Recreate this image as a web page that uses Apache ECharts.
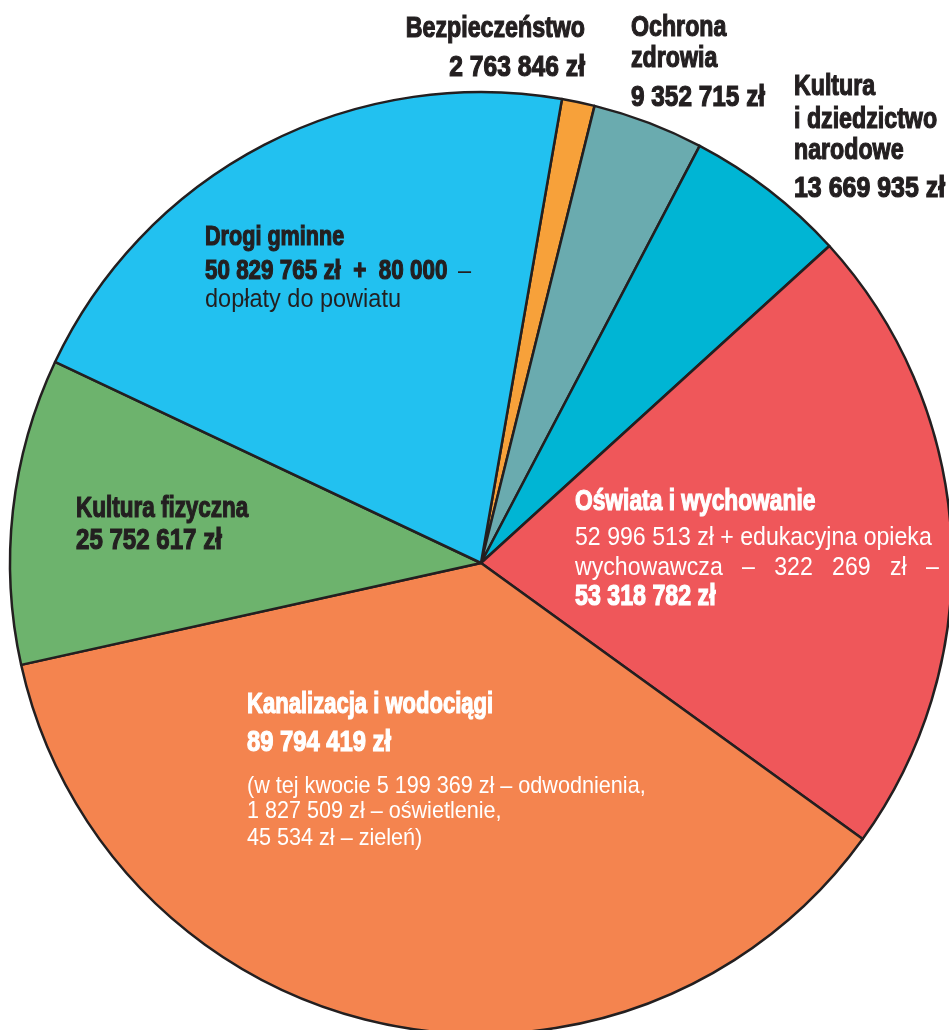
<!DOCTYPE html>
<html>
<head>
<meta charset="utf-8">
<script src="https://cdn.jsdelivr.net/npm/echarts@6/dist/echarts.min.js"></script>
<style>
html,body{margin:0;padding:0;background:#fff;}
#c{width:949px;height:1030px;}
</style>
</head>
<body>
<div id="c"></div>
<script>
// ---- data ----
var categories = ['Bezpieczeństwo', 'Ochrona zdrowia', 'Kultura i dziedzictwo narodowe', 'Oświata i wychowanie', 'Kanalizacja i wodociągi', 'Kultura fizyczna', 'Drogi gminne'];
var values = [2763846, 9352715, 13669935, 53318782, 89794419, 25752617, 50909765];
var colors = ['#F7A13A', '#6AABAF', '#00B5D4', '#EF575A', '#F4844F', '#6DB36D', '#22C1F0'];

// label text lines: [text, bold]
var labelLines = [
  [['Bezpieczeństwo', 1], ['2 763 846 zł', 1]],
  [['Ochrona', 1], ['zdrowia', 1], ['9 352 715 zł', 1]],
  [['Kultura', 1], ['i dziedzictwo', 1], ['narodowe', 1], ['13 669 935 zł', 1]],
  [['Oświata i wychowanie', 1], ['52 996 513 zł + edukacyjna opieka', 0], ['wychowawcza   –   322   269   zł   –', 0], ['53 318 782 zł', 1]],
  [['Kanalizacja i wodociągi', 1], ['89 794 419 zł', 1], ['(w tej kwocie 5 199 369 zł – odwodnienia,', 0], ['1 827 509 zł – oświetlenie,', 0], ['45 534 zł – zieleń)', 0]],
  [['Kultura fizyczna', 1], ['25 752 617 zł', 1]],
  [['Drogi gminne', 1], ['50 829 765 zł  +  80 000', 1], ['dopłaty do powiatu', 0]]
];

// ---- layout (text block placement) ----
var blocks = [
  {x: 585, align: 'right', base: [39, 78], fill: '#231f20', bs: 29, rs: 25, rx: 0.94, wx: 0.80, nx: 0.85},
  {x: 631, align: 'left', base: [38, 69, 108], fill: '#231f20', bs: 29, rs: 25, rx: 0.94, wx: 0.80, nx: 0.84},
  {x: 794, align: 'left', base: [97, 130, 161, 199], fill: '#231f20', bs: 29, rs: 25, rx: 0.94, wx: 0.80, nx: 0.86},
  {x: 575, align: 'left', base: [512, 547, 577, 607], fill: '#ffffff', bs: 29, rs: 25, rx: 0.925, wx: 0.785, nx: 0.80},
  {x: 247, align: 'left', base: [715, 753, 795, 820, 847], fill: '#ffffff', bs: 29, rs: 24, rx: 0.9, wx: 0.76, nx: 0.82},
  {x: 76, align: 'left', base: [519, 551], fill: '#231f20', bs: 29, rs: 25, rx: 0.94, wx: 0.775, nx: 0.83},
  {x: 205, align: 'left', base: [247, 281, 309], fill: '#231f20', bs: 27, rs: 25, rx: 0.94, wx: 0.80, nx: 0.83}
];

var graphics = [];
labelLines.forEach(function (lines, i) {
  var b = blocks[i];
  lines.forEach(function (ln, j) {
    var bold = ln[1] === 1;
    var size = bold ? b.bs : b.rs;
    var numeric = /^[0-9]/.test(ln[0]);
    graphics.push({
      type: 'text',
      x: b.x,
      y: b.base[j] - 0.35 * size,
      z: 100,
      scaleX: bold ? (numeric ? b.nx : b.wx) : b.rx,
      silent: true,
      style: {
        text: ln[0],
        fontFamily: 'Liberation Sans, Arial, sans-serif',
        fontWeight: bold ? 'bold' : 'normal',
        fontSize: size,
        fill: b.fill,
        stroke: bold ? b.fill : null,
        lineWidth: bold ? 1.2 : 0,
        align: b.align,
        verticalAlign: 'middle'
      }
    });
  });
});
// trailing dash after "80 000" in regular weight
graphics.push({
  type: 'text', x: 458, y: 281 - 0.35 * 25, z: 100, scaleX: 0.94, silent: true,
  style: {text: '–', fontFamily: 'Liberation Sans, Arial, sans-serif', fontSize: 25, fill: '#231f20', align: 'left', verticalAlign: 'middle'}
});

var chart = echarts.init(document.getElementById('c'), null, {renderer: 'canvas'});
chart.setOption({
  animation: false,
  backgroundColor: '#ffffff',
  series: [{
    type: 'pie',
    center: [481, 563],
    radius: 471,
    startAngle: 80.1,
    clockwise: true,
    silent: true,
    z: 1,
    label: {show: false},
    labelLine: {show: false},
    itemStyle: {borderColor: '#231f20', borderWidth: 2.5},
    data: categories.map(function (c, i) {
      return {name: c, value: values[i], itemStyle: {color: colors[i]}};
    })
  }],
  graphic: graphics
});
</script>
</body>
</html>
